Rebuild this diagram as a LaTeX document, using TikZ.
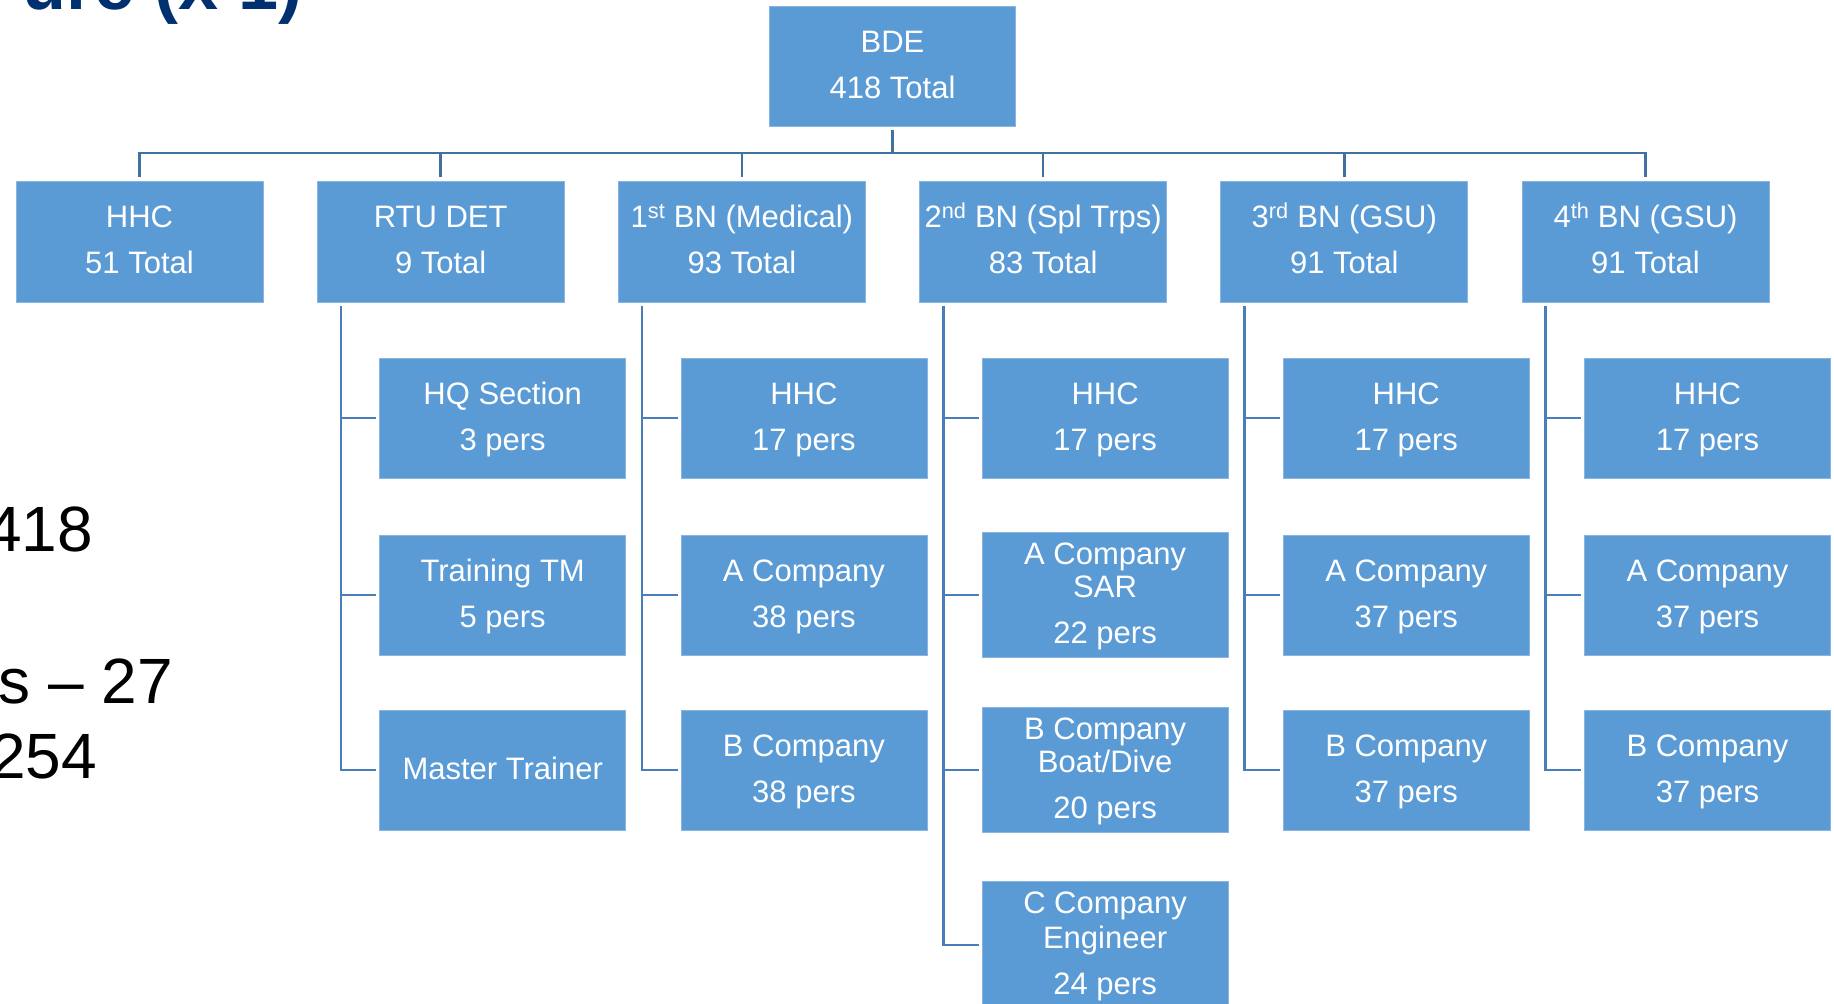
\documentclass[tikz,border=0pt]{standalone}
\usepackage{fontspec}
\setmainfont{Liberation Sans}
\definecolor{boxblue}{HTML}{5B9BD5}
\definecolor{boxedge}{HTML}{8CB4E1}
\definecolor{linkdark}{HTML}{41719C}
\definecolor{linkblue}{HTML}{4A7EBB}
\definecolor{titleblue}{HTML}{003070}
\tikzset{
  unit/.style={rectangle, fill=boxblue, draw=boxedge, line width=0.8pt, text=white,
    minimum width=247pt, minimum height=121pt, inner sep=0pt, align=center,
    font=\fontsize{31}{46}\selectfont},
  subunit/.style={unit, minimum width=246pt, minimum height=120pt},
  toplink/.style={draw=linkdark, line width=2.6pt, shorten >=3.5pt, shorten <=3.5pt},
  sublink/.style={draw=linkblue, line width=2.6pt, shorten >=3pt},
  side/.style={font=\fontsize{64}{77}\selectfont, anchor=base east, inner sep=0pt, text=black},
  headline/.style={font=\fontsize{72}{80}\selectfont\bfseries, text=titleblue, anchor=base east, inner sep=0pt}
}
\begin{document}
\begin{tikzpicture}[x=1pt,y=-1pt]
\useasboundingbox (0,0) rectangle (1834,1004);

% title fragment and side texts
\node[headline] (title) at (303,9) {ure (x 1)};
\node[side] (t418) at (93,551) {418};
\node[side] (t27) at (173,703) {s – 27};
\node[side] (t254) at (97,778) {254};

% top
\node[unit, minimum width=246pt, minimum height=120pt] (bde) at (892.5,66.5) {\strut BDE\\\strut 418 Total};

% level 2
\node[unit] (hhc) at (139.5,241.5) {\strut HHC\\\strut 51 Total};
\node[unit] (rtu) at (440.7,241.5) {\strut RTU DET\\\strut 9 Total};
\node[unit] (bn1) at (741.9,241.5) {\strut 1\textsuperscript{st} BN (Medical)\\\strut 93 Total};
\node[unit] (bn2) at (1043.1,241.5) {\strut 2\textsuperscript{nd} BN (Spl Trps)\\\strut 83 Total};
\node[unit] (bn3) at (1344.3,241.5) {\strut 3\textsuperscript{rd} BN (GSU)\\\strut 91 Total};
\node[unit] (bn4) at (1645.5,241.5) {\strut 4\textsuperscript{th} BN (GSU)\\\strut 91 Total};

% RTU DET
\node[subunit] (hq) at (502.7,418) {\strut HQ Section\\\strut 3 pers};
\node[subunit] (tm) at (502.7,595) {\strut Training TM\\\strut 5 pers};
\node[subunit] (mt) at (502.7,770) {\strut Master Trainer};

% 1st BN
\node[subunit] (b1h) at (803.9,418) {\strut HHC\\\strut 17 pers};
\node[subunit] (b1a) at (803.9,595) {\strut A Company\\\strut 38 pers};
\node[subunit] (b1b) at (803.9,770) {\strut B Company\\\strut 38 pers};

% 2nd BN
\node[subunit] (b2h) at (1105.1,418) {\strut HHC\\\strut 17 pers};
\node[subunit] (b2a) at (1105.1,595) {\strut A Company\\[-13pt]\strut SAR\\\strut 22 pers};
\node[subunit] (b2b) at (1105.1,770) {\strut B Company\\[-13pt]\strut Boat/Dive\\\strut 20 pers};
\node[subunit] (b2c) at (1105.1,945) {\strut C Company\\[-11pt]\strut Engineer\\\strut 24 pers};

% 3rd BN
\node[subunit] (b3h) at (1406.3,418) {\strut HHC\\\strut 17 pers};
\node[subunit] (b3a) at (1406.3,595) {\strut A Company\\\strut 37 pers};
\node[subunit] (b3b) at (1406.3,770) {\strut B Company\\\strut 37 pers};

% 4th BN
\node[subunit] (b4h) at (1707.5,418) {\strut HHC\\\strut 17 pers};
\node[subunit] (b4a) at (1707.5,595) {\strut A Company\\\strut 37 pers};
\node[subunit] (b4b) at (1707.5,770) {\strut B Company\\\strut 37 pers};

% top-level connectors
\coordinate (bus) at (892.5,153);
\foreach \c in {hhc,rtu,bn1,bn2,bn3,bn4}
  \draw[toplink] (bde.south) -- (bus) -| (\c.north);

% trunks
\foreach \p in {rtu,bn1,bn2,bn3,bn4}
  \coordinate (\p-t) at ([xshift=24pt,yshift=-4pt]\p.south west);

\foreach \p/\k in {rtu/hq,rtu/tm,rtu/mt,bn1/b1h,bn1/b1a,bn1/b1b,
                   bn2/b2h,bn2/b2a,bn2/b2b,bn2/b2c,
                   bn3/b3h,bn3/b3a,bn3/b3b,bn4/b4h,bn4/b4a,bn4/b4b}
  \draw[sublink] (\p-t) |- (\k.west);
\end{tikzpicture}
\end{document}
